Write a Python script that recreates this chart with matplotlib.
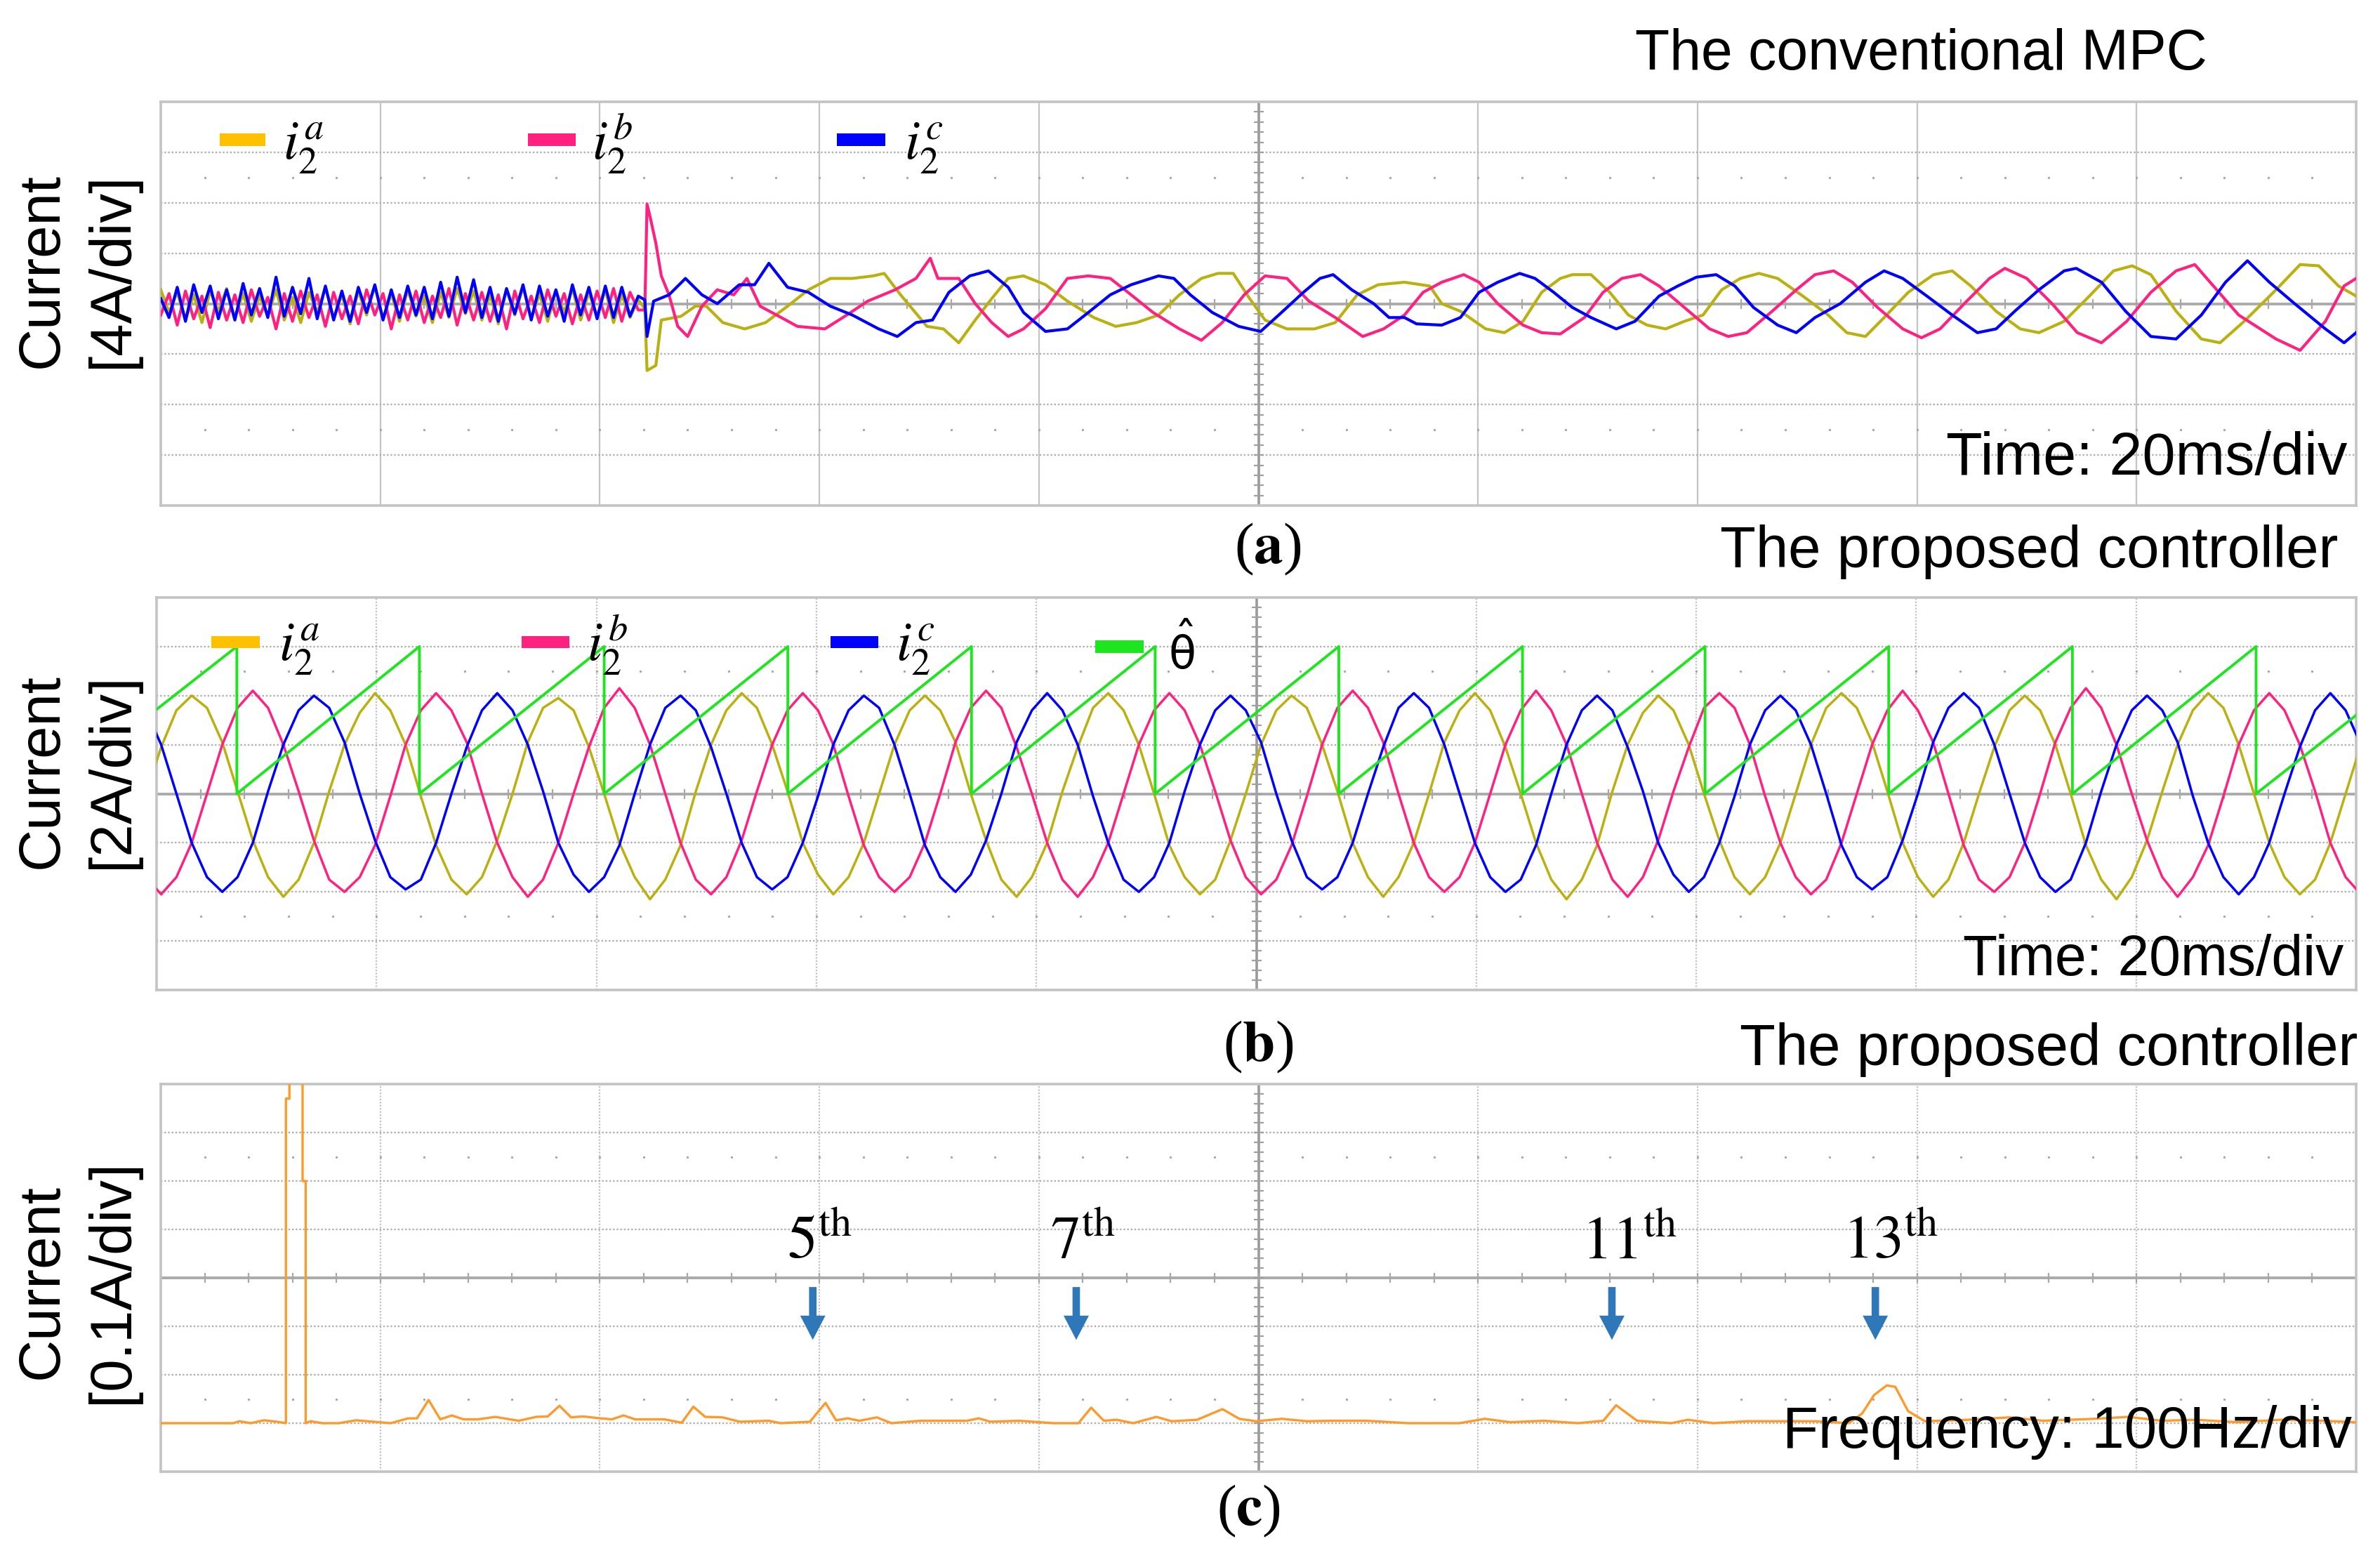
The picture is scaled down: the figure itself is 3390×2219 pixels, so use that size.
import numpy as np
import matplotlib
matplotlib.use("Agg")
import matplotlib.pyplot as plt
from matplotlib.patches import Rectangle, FancyArrow

plt.rcParams['font.family'] = ['Liberation Sans', 'DejaVu Sans']

# ---------------- data read from the scope screens ----------------
# (a) conventional MPC, 4 A/div, 20 ms/div. time in ms, current in A
a_pre_dt = 0.75  # ripple before the step, one value every 0.75 ms
ia_pre = [1.1, -0.7, 0.9, -1.3, 0.7, -1.5, 1.0, -0.6, 1.2, -1.1,
          0.8, -1.4, 0.6, -1.0, 1.1, -1.3, 0.5, -1.5, 0.9, -0.7,
          1.3, -1.1, 0.7, -1.6, 1.0, -0.9, 1.4, -1.2, 0.8, -1.4,
          1.1, -1.0, 0.6, -1.5, 0.9, -1.1, 1.2, -0.8, 1.0, -1.3,
          0.7, -1.6, 1.1, -0.9, 1.3, -1.2, 0.8, -1.4, 1.0, -0.7,
          1.2, -1.3, 0.9, -1.0, 1.1, -1.5, 0.7, -1.1, 0.3]
ib_pre = [-0.9, 0.8, -1.7, 1.0, -1.2, 0.6, -1.9, 0.9, -1.3, 0.7,
          -1.5, 1.1, -1.0, 0.5, -2.0, 0.8, -1.4, 1.0, -1.1, 0.7,
          -1.8, 0.9, -1.2, 0.6, -1.6, 1.1, -0.9, 0.8, -2.0, 0.7,
          -1.3, 1.0, -1.5, 0.6, -1.1, 1.2, -1.7, 0.8, -1.3, 0.9,
          -1.4, 0.7, -2.0, 1.0, -1.2, 0.6, -1.5, 1.1, -1.0, 0.8,
          -1.6, 0.7, -1.3, 1.0, -1.1, 1.2, -1.4, 0.9, -0.5]
ic_pre = [0.4, -1.1, 1.3, -1.4, 1.5, -0.7, 1.4, -1.2, 1.1, -1.3,
          1.6, -0.9, 1.2, -1.1, 2.1, -1.0, 1.3, -0.8, 2.0, -1.2,
          1.4, -1.3, 1.0, -1.4, 1.3, -0.7, 1.5, -1.3, 1.1, -1.1,
          1.4, -0.9, 1.3, -1.2, 1.7, -1.0, 2.1, -0.7, 1.9, -1.1,
          1.3, -1.4, 1.2, -0.8, 1.5, -1.3, 1.4, -1.0, 1.1, -1.4,
          1.5, -0.9, 1.3, -1.2, 1.4, -1.1, 1.3, -1.0, 0.6]

ia_post_t = [44.1, 44.3, 45.1, 45.6, 47.4, 48.7, 49.7, 51.2, 53.2, 55.1,
             57.1, 59.0, 61.0, 63.0, 64.9, 65.9, 67.4, 69.8, 71.3, 72.7,
             74.2, 75.7, 77.2, 78.6, 80.6, 82.6, 85.0, 87.0, 88.9, 90.9,
             92.8, 94.8, 96.3, 97.7, 99.2, 100.6, 102.6, 105.1, 107.0, 109.0,
             110.9, 113.3, 115.6, 116.7, 118.4, 120.7, 122.4, 124.1, 125.8, 127.5,
             128.6, 130.3, 132.0, 133.7, 135.4, 137.1, 138.8, 140.5, 142.2, 143.9,
             145.6, 147.3, 149.6, 151.9, 153.6, 155.3, 157.0, 159.2, 161.5, 163.2,
             164.9, 167.2, 169.4, 171.1, 173.4, 175.7, 177.9, 179.6, 181.3, 183.6,
             185.9, 187.6, 189.8, 192.7, 194.9, 196.6, 198.4, 200.0]
ia_post = [-0.4, -5.3, -4.9, -1.3, -1.0, -0.2, -0.2, -1.5, -2.0, -1.5,
           -0.2, 1.1, 2.0, 2.0, 2.2, 2.4, 0.7, -1.8, -2.0, -3.1,
           -1.3, 0.4, 2.0, 2.2, 1.5, 0.2, -1.1, -1.8, -1.5, -0.9,
           0.7, 2.0, 2.4, 2.4, 0.4, -1.3, -2.0, -2.0, -1.5, 0.7,
           1.5, 1.7, 1.4, 0.0, -0.6, -2.0, -2.3, -1.4, 0.9, 2.0,
           2.3, 2.3, 0.9, -0.9, -1.7, -2.0, -1.4, -0.9, 1.1, 2.0,
           2.4, 2.0, 0.6, -0.9, -2.3, -2.6, -1.1, 0.9, 2.3, 2.6,
           1.4, -0.6, -2.0, -2.3, -1.4, 0.6, 2.6, 3.0, 2.3, -0.6,
           -2.8, -3.1, -1.4, 1.1, 3.1, 3.0, 1.4, 0.6]

ib_post_t = [44.1, 44.3, 44.6, 45.1, 45.6, 46.3, 47.1, 48.0, 49.3, 50.7,
             52.2, 53.4, 54.6, 56.1, 58.0, 60.5, 62.5, 64.4, 66.9, 68.8,
             70.1, 70.8, 72.7, 74.2, 75.7, 77.2, 78.6, 80.6, 82.6, 84.5,
             86.5, 88.4, 90.4, 92.8, 94.8, 96.7, 98.7, 100.6, 102.6, 104.6,
             107.0, 109.5, 111.4, 113.3, 115.0, 116.7, 118.7, 120.1, 121.8, 124.1,
             125.8, 127.5, 129.7, 131.4, 133.1, 134.8, 136.5, 138.8, 141.1, 142.8,
             144.5, 146.8, 149.0, 150.7, 152.4, 154.1, 156.4, 158.7, 160.4, 162.1,
             164.3, 166.6, 168.0, 170.0, 172.3, 174.6, 176.8, 179.1, 181.3, 183.6,
             185.3, 187.0, 189.3, 192.7, 194.9, 197.2, 198.9, 200.0]
ib_post = [-0.5, 7.9, 6.8, 4.8, 2.2, 0.7, -1.8, -2.6, -0.2, 1.1,
           0.7, 2.0, -0.2, -0.9, -1.8, -2.0, -0.9, 0.2, 1.1, 2.0,
           3.6, 2.0, 2.0, 0.0, -1.5, -2.6, -2.0, -0.4, 2.0, 2.2,
           2.0, 0.7, -0.7, -2.0, -2.9, -1.5, 0.7, 2.2, 2.0, 0.2,
           -1.1, -2.6, -2.0, -0.9, 0.9, 1.7, 2.3, 1.7, 0.0, -1.7,
           -2.3, -2.4, -1.1, 0.9, 2.0, 2.3, 1.4, -0.3, -2.0, -2.6,
           -2.3, -0.6, 1.1, 2.3, 2.6, 1.7, -0.3, -2.0, -2.7, -2.0,
           0.0, 2.0, 2.8, 2.0, 0.0, -2.3, -3.1, -1.4, 0.9, 2.6,
           3.1, 1.4, -0.9, -2.8, -3.7, -1.4, 1.4, 2.0]

ic_post_t = [44.1, 44.3, 44.9, 46.3, 47.8, 49.3, 50.7, 52.7, 54.1, 55.4,
             57.1, 59.0, 61.0, 63.0, 65.4, 67.1, 68.8, 70.3, 71.8, 73.7,
             75.4, 77.2, 78.6, 80.6, 82.6, 84.5, 86.5, 88.4, 90.9, 92.3,
             93.8, 95.8, 98.2, 100.2, 102.1, 104.1, 105.6, 106.8, 108.5, 110.5,
             111.9, 113.3, 114.4, 116.7, 118.4, 120.1, 121.8, 123.8, 125.2, 126.9,
             128.6, 130.3, 132.6, 134.3, 136.5, 138.2, 139.9, 141.7, 143.4, 145.1,
             147.3, 149.0, 150.7, 153.0, 155.3, 157.0, 158.7, 160.9, 163.2, 165.5,
             167.2, 168.9, 171.1, 173.4, 174.5, 176.8, 179.0, 181.3, 183.6, 185.9,
             188.1, 190.1, 192.1, 194.4, 197.2, 198.9, 200.0]
ic_post = [0.3, -2.6, 0.2, 0.7, 2.0, 0.7, 0.0, 1.5, 1.5, 3.2,
           1.3, 0.9, -0.2, -0.9, -2.0, -2.6, -1.5, -1.3, 0.9, 2.2,
           2.6, 1.3, -0.7, -2.2, -2.0, -0.7, 0.7, 1.5, 2.2, 2.0,
           0.7, -0.7, -1.8, -2.2, -0.7, 0.9, 2.0, 2.3, 1.1, 0.0,
           -1.1, -1.1, -1.6, -1.7, -1.1, 0.9, 1.7, 2.4, 2.0, 0.9,
           -0.3, -1.1, -2.0, -1.4, 0.6, 1.4, 2.1, 2.3, 1.4, -0.3,
           -1.7, -2.3, -1.1, 0.0, 1.7, 2.6, 2.0, 0.6, -0.9, -2.3,
           -2.0, -0.6, 1.1, 2.6, 2.8, 1.7, -0.6, -2.6, -2.8, -0.9,
           1.7, 3.4, 1.7, 0.0, -2.0, -3.1, -2.3]

# (b) proposed controller, 2 A/div, 20 ms/div, one value every 30 deg of the 60 Hz wave
b_t0 = -0.97
b_dt = 1.389
ia_b = [0.0, 1.9, 3.4, 4.0, 3.5, 2.1, 0.1, -1.9, -3.4, -4.2, -3.5, -2.0,
        0.1, 2.0, 3.3, 4.1, 3.4, 2.0, -0.1, -2.1, -3.5, -4.1, -3.4, -1.9,
        0.0, 2.1, 3.5, 3.9, 3.4, 1.9, 0.0, -2.0, -3.4, -4.3, -3.5, -2.1,
        0.1, 2.0, 3.4, 4.1, 3.5, 2.0, 0.1, -2.0, -3.3, -4.1, -3.4, -2.0,
        0.0, 2.0, 3.4, 4.0, 3.4, 2.1, 0.0, -1.9, -3.5, -4.2, -3.4, -2.0,
        0.1, 1.9, 3.5, 4.1, 3.4, 2.0, 0.0, -2.1, -3.4, -4.1, -3.5, -1.9,
        0.0, 2.0, 3.4, 4.0, 3.5, 2.0, 0.1, -2.0, -3.4, -4.2, -3.4, -2.0,
        0.0, 2.1, 3.4, 4.1, 3.4, 1.9, 0.0, -2.0, -3.5, -4.3, -3.5, -2.1,
        0.1, 2.0, 3.3, 4.0, 3.4, 2.0, 0.0, -1.9, -3.4, -4.1, -3.4, -2.0,
        0.0, 2.0, 3.5, 4.1, 3.5, 2.1, 0.1, -2.0, -3.4, -4.2, -3.5, -2.0,
        0.0, 1.9, 3.4, 4.0, 3.4, 2.0, 0.0, -2.1, -3.5, -4.3, -3.4, -1.9,
        0.1, 2.0, 3.4, 4.1, 3.5, 2.0, 0.0, -2.0, -3.4, -4.1, -3.5, -2.0,
        0.0, 2.0]
ib_b = [-3.4, -4.1, -3.4, -2.0, 0.0, 2.0, 3.5, 4.2, 3.5, 2.0, 0.1, -1.9,
        -3.5, -4.0, -3.4, -2.1, -0.1, 2.0, 3.4, 4.1, 3.4, 2.1, 0.0, -2.0,
        -3.4, -4.2, -3.5, -2.0, 0.0, 1.9, 3.5, 4.3, 3.5, 2.0, 0.0, -2.0,
        -3.5, -4.1, -3.4, -1.9, 0.1, 2.0, 3.4, 4.1, 3.4, 2.0, -0.1, -2.1,
        -3.4, -4.0, -3.4, -2.0, 0.0, 2.1, 3.5, 4.2, 3.5, 1.9, 0.0, -2.0,
        -3.5, -4.2, -3.4, -2.0, 0.0, 2.0, 3.4, 4.1, 3.4, 2.0, 0.1, -1.9,
        -3.4, -4.1, -3.5, -2.1, -0.1, 2.0, 3.5, 4.2, 3.5, 2.1, 0.0, -2.0,
        -3.4, -4.0, -3.4, -2.0, 0.0, 2.0, 3.4, 4.2, 3.4, 2.0, 0.0, -2.0,
        -3.5, -4.2, -3.4, -1.9, 0.1, 1.9, 3.5, 4.1, 3.5, 2.0, -0.1, -2.0,
        -3.4, -4.1, -3.5, -2.0, 0.0, 2.0, 3.4, 4.2, 3.4, 2.1, 0.0, -2.1,
        -3.5, -4.0, -3.4, -2.0, 0.0, 2.1, 3.5, 4.3, 3.5, 2.0, 0.0, -1.9,
        -3.4, -4.2, -3.4, -2.1, -0.1, 2.0, 3.4, 4.1, 3.4, 2.0, 0.1, -2.0,
        -3.4, -4.1]
ic_b = [3.4, 2.0, 0.0, -2.0, -3.4, -4.0, -3.4, -2.0, 0.1, 2.0, 3.4, 4.0,
        3.5, 2.1, 0.0, -1.9, -3.4, -3.9, -3.5, -2.0, 0.0, 1.9, 3.4, 4.1,
        3.4, 2.0, 0.1, -2.0, -3.3, -4.0, -3.4, -2.1, 0.0, 2.0, 3.5, 4.0,
        3.4, 1.9, 0.0, -2.0, -3.4, -3.9, -3.4, -2.0, -0.1, 2.0, 3.4, 4.0,
        3.5, 2.0, 0.0, -2.1, -3.4, -4.0, -3.3, -1.9, 0.0, 2.1, 3.4, 4.1,
        3.4, 2.0, -0.1, -2.0, -3.5, -4.0, -3.4, -2.0, 0.1, 2.0, 3.4, 4.0,
        3.4, 2.1, 0.0, -1.9, -3.4, -3.9, -3.4, -2.0, 0.0, 1.9, 3.5, 4.1,
        3.5, 2.0, 0.0, -2.0, -3.4, -4.0, -3.5, -2.1, 0.0, 2.0, 3.4, 4.0,
        3.4, 1.9, 0.1, -2.0, -3.3, -4.0, -3.4, -2.0, -0.1, 2.0, 3.4, 4.0,
        3.4, 2.0, 0.0, -2.1, -3.4, -3.9, -3.4, -1.9, 0.0, 2.1, 3.5, 4.1,
        3.5, 2.0, 0.0, -2.0, -3.4, -4.0, -3.5, -2.0, 0.1, 2.0, 3.4, 4.0,
        3.4, 2.1, -0.1, -2.0, -3.4, -4.1, -3.4, -2.0, 0.0, 1.9, 3.4, 4.1,
        3.4, 2.0]
# estimated phase angle: resets (ms) and values at the screen edges (rad)
theta_reset = [7.3, 23.9, 40.7, 57.4, 74.1, 90.8, 107.5, 124.2, 140.8, 157.5, 174.2, 190.9]
theta_first = 3.60
theta_last = 3.35
theta_div = 3.0  # 2*pi is shown as 3 div

# (c) spectrum of the proposed controller, 0.1 A/div, 100 Hz/div
freq = [0, 33, 35.8, 41, 47, 53, 57, 57, 58.6, 58.6, 64.6, 64.6, 66, 66, 68.3, 73.5,
        81, 89, 96.8, 104.7, 112.7, 116.7, 122, 127.3, 132.6, 137.9, 144.5, 152.4,
        163, 171, 176.3, 181.6, 186.9, 192.2, 200.2, 205.5, 210.8, 216, 229.4, 237.3,
        242.6, 248, 255.9, 263.8, 277, 282.4, 295.7, 302.8, 307.6, 312.9, 318.2, 326.2,
        332.8, 346, 367.2, 372.6, 377.9, 391.1, 406.5, 418, 423.8, 429.6, 435.4, 443,
        453.5, 460.5, 472, 483.6, 491.3, 499, 510.6, 522.2, 533.7, 549.1, 568.4, 591.5,
        603.1, 614.7, 630.1, 645.5, 657.1, 662.9, 672.5, 687.9, 695.6, 707.2, 722.6,
        753.5, 768.9, 775, 780.4, 786.2, 790.1, 795.9, 803.6, 822.8, 842.1, 857.5,
        880.7, 896.1, 911.5, 926.9, 946.2, 965.5, 984.8, 1000]
amp = [0.0, 0.0, 0.004, 0.0, 0.006, 0.003, 0.0, 0.67, 0.67, 4.0, 4.0, 0.5, 0.5, 0.0, 0.004, 0.0,
       0.0, 0.006, 0.003, 0.0, 0.01, 0.01, 0.048, 0.008, 0.016, 0.008, 0.008, 0.013,
       0.005, 0.013, 0.014, 0.036, 0.012, 0.014, 0.01, 0.008, 0.016, 0.008, 0.008, 0.001,
       0.034, 0.013, 0.012, 0.003, 0.005, 0.0, 0.003, 0.042, 0.006, 0.01, 0.005, 0.012,
       0.0, 0.005, 0.005, 0.01, 0.003, 0.005, 0.0, 0.0, 0.032, 0.005, 0.007, 0.0,
       0.013, 0.004, 0.007, 0.029, 0.009, 0.004, 0.009, 0.004, 0.005, 0.005, 0.0, 0.0,
       0.009, 0.002, 0.005, 0.0, 0.005, 0.037, 0.005, 0.0, 0.007, 0.0, 0.004,
       0.004, 0.0, 0.02, 0.058, 0.078, 0.075, 0.025, 0.004, 0.007, 0.012, 0.005,
       0.009, 0.013, 0.005, 0.007, 0.002, 0.007, 0.005, 0.002]
harm_names = ['5', '7', '11', '13']
harm_arrow_f = [297, 417, 661, 781]
harm_label_f = [300, 420, 669, 788]

# colours
C_A, C_A_LEG = '#BAB010', '#FFC000'
C_B = '#FF2080'
C_C = '#0000FF'
C_TH = '#1EE61E'
C_SPEC = '#FF9A2A'
C_ARROW = '#2E78BA'

# ---------------- figure ----------------
W, H = 3390, 2219
fig = plt.figure(figsize=(W / 100, H / 100), dpi=100)


def fx(x):
    return x / W


def fy(y):
    return 1 - y / H


def box(l, t, r, b):
    return [fx(l), fy(b), (r - l) / W, (b - t) / H]


def scope_grid(ax, solid_v):
    ax.set_xticks([])
    ax.set_yticks([])
    for s in ax.spines.values():
        s.set_color('#C3C3C3')
        s.set_linewidth(2.6)
    tr = ax.transAxes
    for i in range(1, 10):
        x = i / 10
        if i == 5:
            ax.plot([x, x], [0, 1], transform=tr, color='#9A9A9A', lw=2.6, zorder=1)
        elif solid_v:
            ax.plot([x, x], [0, 1], transform=tr, color='#C4C4C4', lw=1.6, zorder=1)
        else:
            ax.plot([x, x], [0, 1], transform=tr, color='#C2C2C2', lw=1.6,
                    ls=(0, (1, 1)), zorder=1)
    for j in range(1, 8):
        y = j / 8
        if j == 4:
            ax.plot([0, 1], [y, y], transform=tr, color='#ABABAB', lw=2.8, zorder=1)
        else:
            ax.plot([0, 1], [y, y], transform=tr, color='#AFAFAF', lw=1.7,
                    ls=(0, (1, 1.2)), zorder=1)
    sub_x = np.arange(1, 50) / 50
    sub_y = np.arange(1, 40) / 40
    ax.plot(sub_x, np.full(len(sub_x), 0.5), transform=tr, ls='none', marker='|',
            ms=10, mew=1.6, color='#A8A8A8', zorder=1)
    ax.plot(np.full(len(sub_y), 0.5), sub_y, transform=tr, ls='none', marker='_',
            ms=10, mew=1.6, color='#A0A0A0', zorder=1)
    for yy in (0.8125, 0.1875):
        ax.plot(sub_x, np.full(len(sub_x), yy), transform=tr, ls='none', marker='o',
                ms=2.4, mew=0, color='#A6A6A6', zorder=1)


def legend_patch(l, t, r, b, color):
    fig.add_artist(Rectangle((fx(l), fy(b)), (r - l) / W, (b - t) / H,
                             transform=fig.transFigure, color=color, lw=0, zorder=5))


def legend_text(x, y, s, size=56, mfam='stix'):
    fig.text(fx(x), fy(y), s, ha='left', va='baseline', fontsize=size,
             math_fontfamily=mfam, zorder=6)


ax_a = fig.add_axes(box(229, 145, 3356, 720))
ax_b = fig.add_axes(box(223, 851, 3356, 1410))
ax_c = fig.add_axes(box(229, 1544, 3356, 2096))

# (a)
scope_grid(ax_a, True)
ta_pre = np.arange(len(ia_pre)) * a_pre_dt
ax_a.plot(np.concatenate([ta_pre, ia_post_t]), np.concatenate([ia_pre, ia_post]),
          color=C_A, lw=3.0, zorder=3)
ax_a.plot(np.concatenate([ta_pre, ib_post_t]), np.concatenate([ib_pre, ib_post]),
          color=C_B, lw=3.0, zorder=3)
ax_a.plot(np.concatenate([ta_pre, ic_post_t]), np.concatenate([ic_pre, ic_post]),
          color=C_C, lw=3.0, zorder=3)
ax_a.set_xlim(0, 200)
ax_a.set_ylim(-16, 16)

# (b)
scope_grid(ax_b, False)
tb = b_t0 + np.arange(len(ia_b)) * b_dt
ax_b.plot(tb, ia_b, color=C_A, lw=2.5, zorder=3)
ax_b.plot(tb, ib_b, color=C_B, lw=2.5, zorder=3)
ax_b.plot(tb, ic_b, color=C_C, lw=2.5, zorder=3)
th_t, th_v = [0.0], [theta_first]
for r in theta_reset:
    th_t += [r, r]
    th_v += [2 * np.pi, 0.0]
th_t.append(200.0)
th_v.append(theta_last)
ax_b.plot(th_t, np.array(th_v) / (2 * np.pi) * theta_div * 2, color=C_TH, lw=2.8, zorder=4)
ax_b.set_xlim(0, 200)
ax_b.set_ylim(-8, 8)

# (c)
scope_grid(ax_c, False)
ax_c.plot(freq, amp, color=C_SPEC, lw=2.4, zorder=3)
ax_c.set_xlim(0, 1000)
ax_c.set_ylim(-0.1, 0.7)
for n, fa, fl in zip(harm_names, harm_arrow_f, harm_label_f):
    ax_c.add_patch(FancyArrow(fa, 0.281, 0, -0.109, width=3.4, head_width=11.5,
                              head_length=0.05, length_includes_head=True,
                              color=C_ARROW, lw=0, zorder=5))
    ax_c.text(fl, 0.341, r'$\mathrm{%s^{th}}$' % n, ha='center', va='baseline',
              fontsize=62, math_fontfamily='stix', zorder=6)

# legends
legend_patch(313, 190, 378, 208, C_A_LEG)
legend_patch(752, 190, 820, 208, C_B)
legend_patch(1192, 190, 1261, 208, C_C)
legend_text(403, 227, r'$i_2^a$')
legend_text(843, 227, r'$i_2^b$')
legend_text(1288, 227, r'$i_2^c$')

legend_patch(301, 906, 370, 923, C_A_LEG)
legend_patch(743, 906, 811, 923, C_B)
legend_patch(1183, 906, 1251, 923, C_C)
legend_patch(1560, 912, 1629, 930, C_TH)
legend_text(397, 941, r'$i_2^a$')
legend_text(836, 941, r'$i_2^b$')
legend_text(1276, 941, r'$i_2^c$')
legend_text(1664, 953, r'$\hat{\mathrm{\theta}}$', size=46, mfam='dejavusans')

# titles and captions
fig.text(fx(3144), fy(99), 'The conventional MPC', ha='right', va='baseline', fontsize=58)
fig.text(fx(3330), fy(808), 'The proposed controller', ha='right', va='baseline', fontsize=60)
fig.text(fx(3358), fy(1517), 'The proposed controller', ha='right', va='baseline', fontsize=60)
fig.text(fx(3343), fy(676), 'Time: 20ms/div', ha='right', va='baseline', fontsize=61)
fig.text(fx(3338), fy(1389), 'Time: 20ms/div', ha='right', va='baseline', fontsize=58)
fig.text(fx(3350), fy(2062), 'Frequency: 100Hz/div', ha='right', va='baseline', fontsize=60)

for cx, cy, letter in [(1806, 782, 'a'), (1792, 1491, 'b'), (1778, 2152, 'c')]:
    fig.text(fx(cx), fy(cy), r'($\mathbf{%s}$)' % letter, ha='center', va='center',
             fontsize=60, family='Liberation Serif', math_fontfamily='stix')

for cy, unit in [(385, '[4A/div]'), (1098, '[2A/div]'), (1825, '[0.1A/div]')]:
    fig.text(fx(82), fy(cy), 'Current', rotation=90, rotation_mode='anchor',
             ha='center', va='baseline', fontsize=60)
    fig.text(fx(182), fy(cy), unit, rotation=90, rotation_mode='anchor',
             ha='center', va='baseline', fontsize=60)

fig.savefig('out.png', dpi=100)
